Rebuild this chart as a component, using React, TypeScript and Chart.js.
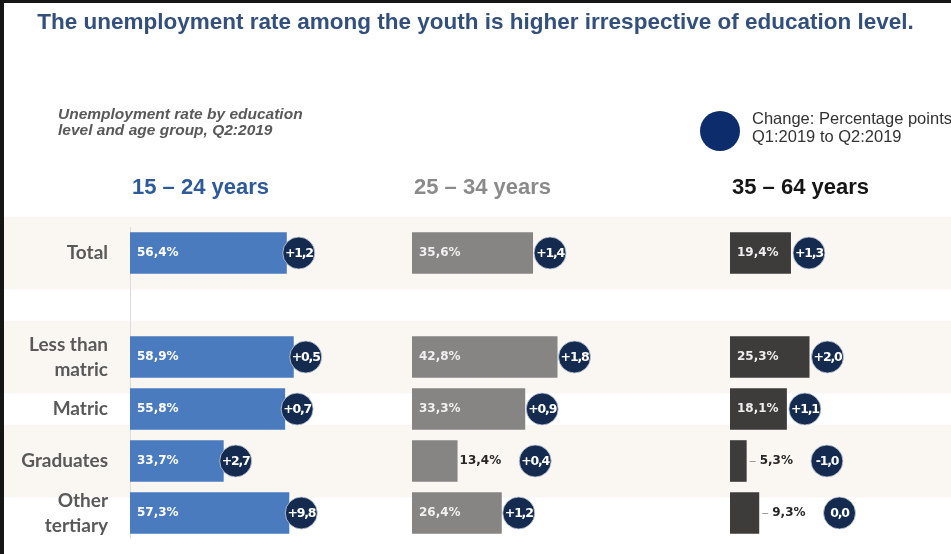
import { useEffect, useRef } from 'react';
import { Chart, registerables } from 'chart.js';

Chart.register(...registerables);

// Rows of the chart (the empty entry is the spacer between Total and the education levels)
const categories: (string | string[])[] = [
  'Total',
  '',
  ['Less than', 'matric'],
  'Matric',
  'Graduates',
  ['Other', 'tertiary'],
];

const ageGroups = ['15 – 24 years', '25 – 34 years', '35 – 64 years'];

// Unemployment rate (%), Q2:2019
const rate15to24 = [56.4, null, 58.9, 55.8, 33.7, 57.3];
const rate25to34 = [35.6, null, 42.8, 33.3, 13.4, 26.4];
const rate35to64 = [19.4, null, 25.3, 18.1, 5.3, 9.3];

// Change in percentage points, Q1:2019 to Q2:2019
const change15to24 = [1.2, null, 0.5, 0.7, 2.7, 9.8];
const change25to34 = [1.4, null, 1.8, 0.9, 0.4, 1.2];
const change35to64 = [1.3, null, 2.0, 1.1, -1.0, 0.0];

const titleText = 'The unemployment rate among the youth is higher irrespective of education level.';
const subtitleLines = ['Unemployment rate by education', 'level and age group, Q2:2019'];
const legendLines = ['Change: Percentage points', 'Q1:2019 to Q2:2019'];

const rates = [rate15to24, rate25to34, rate35to64];
const changes = [change15to24, change25to34, change35to64];

// Horizontal placement and styling of the three age-group panels
const PANELS = [
  { left: 130, right: 408, max: 100, bar: '#4a7bbf', header: '#2d5a9b', label: '#ffffff', outsideGap: 2, leader: false, circleGap: 12 },
  { left: 412, right: 684, max: 80, bar: '#878583', header: '#8a8a8a', label: '#f0f0f0', outsideGap: 2, leader: false, circleGap: 17 },
  { left: 730, right: 950, max: 70, bar: '#3e3c3a', header: '#151515', label: '#eeeeee', outsideGap: 13, leader: true, circleGap: 18 },
];

const FONT = '"Liberation Sans", Arial, sans-serif';
const LABEL_FONT = '"DejaVu Sans", Verdana, sans-serif';

const fmt = (v: number) => v.toFixed(1).replace('.', ',');
const fmtChange = (v: number) => (v > 0 ? '+' : v < 0 ? '-' : '') + fmt(Math.abs(v));

// Puts each value axis in its own horizontal panel
const panelLayout = {
  id: 'panelLayout',
  afterLayout(chart: any) {
    PANELS.forEach((p, i) => {
      const s = chart.scales['x' + i];
      s.left = p.left;
      s.right = p.right;
      s.width = p.right - p.left;
      s.configure();
    });
  },
};

// Background, row bands, frame and header texts
const decorations = {
  id: 'decorations',
  beforeDraw(chart: any) {
    const { ctx, width, height } = chart;
    const y = chart.scales.y;
    ctx.save();
    ctx.fillStyle = '#ffffff';
    ctx.fillRect(0, 0, width, height);
    const step = y.getPixelForValue(1) - y.getPixelForValue(0);
    ctx.fillStyle = '#faf6f2';
    categories.forEach((_, i) => {
      if (i % 2 !== 0) return;
      const c = y.getPixelForValue(i);
      ctx.fillRect(0, c - step * 0.7, width, step * 1.4);
    });
    ctx.restore();
  },
  beforeDatasetsDraw(chart: any) {
    const { ctx, chartArea } = chart;
    const x0 = chart.scales.x0.getPixelForValue(0);
    ctx.save();
    ctx.strokeStyle = '#dcdcdc';
    ctx.lineWidth = 1;
    ctx.beginPath();
    ctx.moveTo(x0 + 0.5, chartArea.top);
    ctx.lineTo(x0 + 0.5, chartArea.bottom);
    ctx.stroke();
    ctx.restore();
  },
  afterDraw(chart: any) {
    const { ctx, width, height } = chart;
    ctx.save();
    ctx.textBaseline = 'middle';

    // title
    ctx.fillStyle = '#33507c';
    ctx.font = `bold 22.5px ${FONT}`;
    ctx.textAlign = 'center';
    ctx.fillText(titleText, width / 2, 23);

    // subtitle
    ctx.textAlign = 'left';
    ctx.fillStyle = '#595959';
    ctx.font = `italic bold 15.5px ${FONT}`;
    subtitleLines.forEach((t, i) => ctx.fillText(t, 58, 115 + i * 16));

    // legend
    ctx.fillStyle = '#0c2c6c';
    ctx.beginPath();
    ctx.arc(720, 131, 20, 0, Math.PI * 2);
    ctx.fill();
    ctx.fillStyle = '#333333';
    ctx.font = `16.5px ${FONT}`;
    legendLines.forEach((t, i) => ctx.fillText(t, 752, 119 + i * 18));

    // age-group headers
    ctx.font = `bold 22px ${FONT}`;
    PANELS.forEach((p, i) => {
      const s = chart.scales['x' + i];
      ctx.fillStyle = p.header;
      ctx.fillText(ageGroups[i], s.left + 2, 188);
    });

    // frame
    ctx.fillStyle = '#161616';
    ctx.fillRect(0, 0, width, 3);
    ctx.fillRect(0, 0, 4, height);
    ctx.restore();
  },
  afterDatasetsDraw(chart: any) {
    const { ctx } = chart;
    ctx.save();
    ctx.textBaseline = 'middle';
    chart.data.datasets.forEach((_: any, i: number) => {
      const p = PANELS[i];
      const meta = chart.getDatasetMeta(i);
      meta.data.forEach((bar: any, j: number) => {
        const v = rates[i][j];
        if (v == null) return;
        const { x, y, base } = bar.getProps(['x', 'y', 'base'], true);
        const text = fmt(v) + '%';
        ctx.font = `bold 12px ${LABEL_FONT}`;
        (ctx as any).letterSpacing = '0px';
        const tw = ctx.measureText(text).width;
        let cx;
        if (x - base >= tw + 10) {
          ctx.fillStyle = p.label;
          ctx.textAlign = 'left';
          ctx.fillText(text, base + 7, y);
          cx = x + p.circleGap;
        } else {
          const lx = x + p.outsideGap;
          if (p.leader) {
            ctx.strokeStyle = '#9a9a9a';
            ctx.lineWidth = 1;
            ctx.beginPath();
            ctx.moveTo(x + 3, y + 0.5);
            ctx.lineTo(x + 9, y + 0.5);
            ctx.stroke();
          }
          ctx.fillStyle = '#262626';
          ctx.textAlign = 'left';
          ctx.fillText(text, lx, y);
          cx = lx + tw + 34;
        }
        const ch = changes[i][j];
        if (ch == null) return;
        ctx.fillStyle = '#142a4e';
        ctx.strokeStyle = 'rgba(200,210,225,0.8)';
        ctx.lineWidth = 1;
        ctx.beginPath();
        ctx.arc(cx, y, 16, 0, Math.PI * 2);
        ctx.fill();
        ctx.stroke();
        ctx.fillStyle = '#ffffff';
        ctx.font = `bold 12.5px ${LABEL_FONT}`;
        (ctx as any).letterSpacing = '-1.2px';
        ctx.textAlign = 'center';
        ctx.fillText(fmtChange(ch), cx, y + 1);
        (ctx as any).letterSpacing = '0px';
      });
    });
    ctx.restore();
  },
};

export default function App() {
  const canvasRef = useRef<HTMLCanvasElement | null>(null);

  useEffect(() => {
    const canvas = canvasRef.current;
    if (!canvas) return;
    Chart.defaults.font.family = FONT;

    const scales: any = {
      y: {
        type: 'category',
        position: 'left',
        grid: { display: false, drawTicks: false },
        border: { display: false },
        ticks: {
          padding: 0,
          color: '#595959',
          autoSkip: false,
          font: { family: 'Lato, "Liberation Sans", sans-serif', size: 19, weight: 'bold', lineHeight: 1.32 },
        },
        afterFit: (s: any) => {
          s.width = 104;
        },
      },
    };
    PANELS.forEach((p, i) => {
      scales['x' + i] = { type: 'linear', axis: 'x', position: 'bottom', display: false, min: 0, max: p.max };
    });

    const chart = new Chart(canvas, {
      type: 'bar',
      data: {
        labels: categories,
        datasets: rates.map((data, i) => ({
          label: ageGroups[i],
          data,
          xAxisID: 'x' + i,
          yAxisID: 'y',
          backgroundColor: PANELS[i].bar,
          grouped: false,
          barPercentage: 0.8,
          categoryPercentage: 1,
        })),
      },
      options: {
        indexAxis: 'y',
        animation: false,
        responsive: true,
        maintainAspectRatio: false,
        layout: { padding: { left: 4, right: 0, top: 227, bottom: 15 } },
        plugins: { legend: { display: false }, tooltip: { enabled: false }, title: { display: false } },
        scales,
      } as any,
      plugins: [panelLayout, decorations],
    });
    return () => chart.destroy();
  }, []);

  return (
    <div style={{ position: 'fixed', left: 0, top: 0, width: 951, height: 554, background: '#fff' }}>
      <canvas ref={canvasRef} />
    </div>
  );
}
